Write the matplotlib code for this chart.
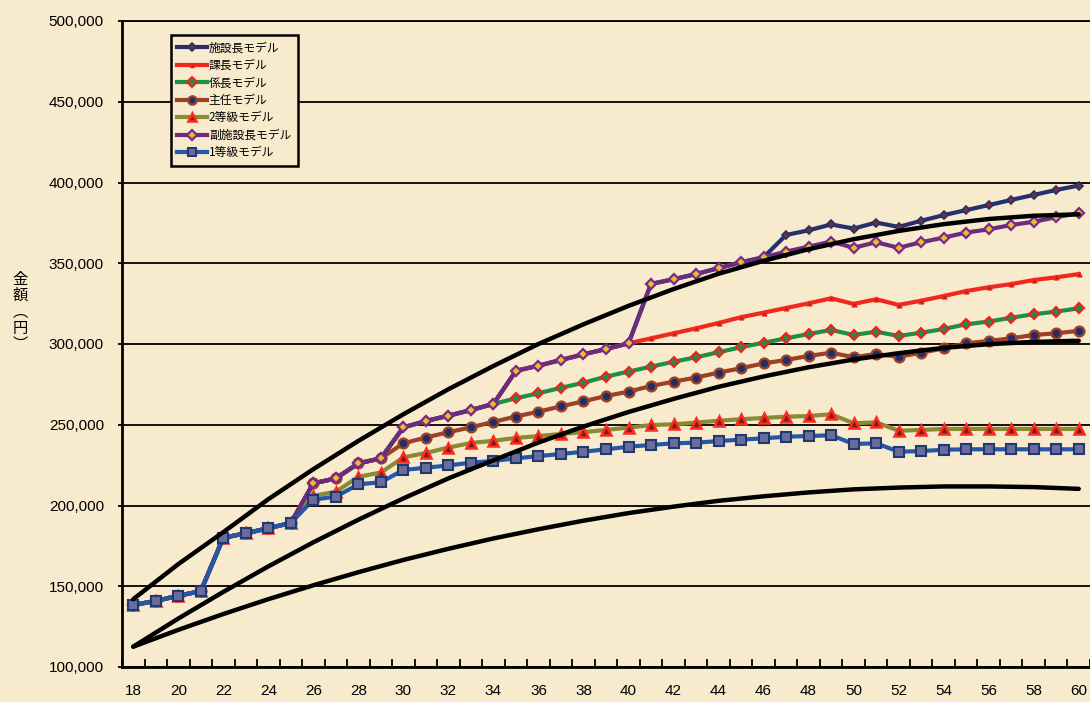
import matplotlib
matplotlib.use("Agg")
import matplotlib.pyplot as plt
from matplotlib.ticker import FuncFormatter, MultipleLocator, FixedLocator
import numpy as np

plt.rcParams['font.family'] = ['Liberation Sans', 'Noto Sans CJK JP', 'DejaVu Sans']

# Age (years) on the x axis
ages = list(range(18, 61))

# Monthly salary by model, in thousands of yen, ages 18..60
grade1 = [138.4, 140.9, 144.1, 147.0, 180.0, 182.8, 185.9, 189.2, 203.6, 205.5,
          213.1, 214.4, 222.0, 223.4, 224.8, 226.5, 227.6, 229.2, 230.6, 231.9,
          233.3, 234.8, 236.4, 237.5, 238.5, 238.9, 239.9, 240.8, 241.6, 242.6,
          243.0, 243.5, 238.1, 238.5, 233.3, 233.7, 234.5, 234.8, 234.8, 234.8,
          234.8, 234.8, 234.8]
grade2 = [138.4, 140.9, 144.1, 147.0, 180.0, 182.8, 185.9, 189.2, 206.0, 208.5,
          217.8, 220.4, 229.8, 232.5, 235.9, 238.7, 240.1, 241.8, 243.0, 244.3,
          245.4, 246.8, 248.2, 249.8, 250.3, 251.3, 252.5, 253.4, 254.2, 255.0,
          255.4, 256.5, 250.9, 251.5, 246.3, 246.8, 247.4, 247.4, 247.4, 247.4,
          247.4, 247.4, 247.4]
shunin = [138.4, 140.9, 144.1, 147.0, 180.0, 182.8, 185.9, 189.2, 213.7, 216.8,
          226.1, 229.2, 238.5, 242.1, 245.4, 248.4, 251.8, 255.1, 258.1, 261.4,
          264.5, 267.8, 270.5, 274.0, 276.7, 279.2, 282.3, 285.0, 288.0, 290.1,
          292.6, 294.6, 291.8, 293.8, 292.1, 294.6, 297.3, 300.4, 301.9, 303.5,
          305.6, 306.6, 308.2]
kakaricho = [138.4, 140.9, 144.1, 147.0, 180.0, 182.8, 185.9, 189.2, 213.7, 216.8,
             226.1, 229.2, 248.4, 252.3, 255.6, 259.1, 262.9, 266.4, 269.5, 272.9,
             276.0, 279.8, 282.9, 286.0, 289.0, 291.8, 294.9, 298.0, 300.8, 303.5,
             306.2, 308.7, 305.6, 307.6, 305.0, 307.0, 309.3, 312.2, 313.9, 316.3,
             318.4, 320.1, 322.1]
kacho = [138.4, 140.9, 144.1, 147.0, 180.0, 182.8, 185.9, 189.2, 213.7, 216.8,
         226.1, 229.2, 248.4, 252.3, 255.6, 259.1, 262.9, 283.4, 286.6, 290.1,
         293.6, 296.9, 300.4, 303.5, 306.6, 309.7, 313.0, 316.6, 319.4, 322.3,
         325.2, 328.3, 324.8, 327.7, 324.2, 326.8, 329.7, 332.8, 335.1, 337.1,
         339.6, 341.3, 343.3]
fuku_shisetsucho = [138.4, 140.9, 144.1, 147.0, 180.0, 182.8, 185.9, 189.2, 213.7, 216.8,
                    226.1, 229.2, 248.4, 252.3, 255.6, 259.1, 262.9, 283.4, 286.6, 290.1,
                    293.6, 296.9, 300.4, 337.2, 340.1, 343.3, 347.0, 350.6, 353.7, 357.2,
                    360.3, 363.4, 359.6, 363.0, 359.6, 363.0, 365.9, 369.0, 371.0, 373.7,
                    375.7, 378.5, 381.0]
shisetsucho = [138.4, 140.9, 144.1, 147.0, 180.0, 182.8, 185.9, 189.2, 213.7, 216.8,
               226.1, 229.2, 248.4, 252.3, 255.6, 259.1, 262.9, 283.4, 286.6, 290.1,
               293.6, 296.9, 300.4, 337.2, 340.1, 343.3, 347.0, 350.6, 353.7, 367.5,
               370.4, 374.0, 371.5, 375.2, 372.5, 376.3, 379.8, 382.9, 386.0, 389.2,
               392.3, 395.4, 398.1]

# Smooth reference curves (thousands of yen) sampled every two years
curve_ages = list(range(18, 61, 2))
curve_upper = [142.0, 163.7, 183.5, 203.9, 222.5, 240.0, 256.5, 272.0, 286.4, 300.0,
               312.2, 323.6, 334.0, 343.5, 351.5, 358.7, 364.9, 370.0, 374.2, 377.4,
               379.4, 380.3]
curve_middle = [112.6, 130.0, 146.5, 162.3, 177.2, 191.2, 204.4, 216.8, 228.0, 239.0,
                248.9, 257.9, 266.0, 273.5, 279.9, 285.6, 290.4, 294.3, 297.6, 299.9,
                301.3, 302.0]
curve_lower = [112.6, 123.0, 132.8, 142.0, 150.6, 158.7, 166.3, 173.2, 179.6, 185.3,
               190.6, 195.3, 199.3, 202.9, 205.7, 208.1, 210.0, 211.1, 211.8, 211.8,
               211.4, 210.3]

series_labels = ['施設長モデル', '課長モデル', '係長モデル', '主任モデル',
                 '2等級モデル', '副施設長モデル', '1等級モデル']

bg = '#F7EACD'
fig = plt.figure(figsize=(10.9, 7.02), dpi=100, facecolor=bg)
ax = fig.add_axes([122 / 1090, 1 - 667 / 702, 1 - 122 / 1090, (667 - 21) / 702])
ax.set_facecolor(bg)

styles = [
    dict(data=shisetsucho, color='#25306C', marker='D', ms=4.5, mfc='#7A2E2E', mec='#25306C', mew=1.2),
    dict(data=kacho, color='#F0281E', marker='^', ms=3.5, mfc='#A51818', mec='#F0281E', mew=1.0),
    dict(data=kakaricho, color='#1E8F45', marker='D', ms=5.5, mfc='#1E8F45', mec='#F02020', mew=1.5),
    dict(data=shunin, color='#9C4026', marker='o', ms=7, mfc='#1F2D6B', mec='#9C4026', mew=1.7),
    dict(data=grade2, color='#8A8A34', marker='^', ms=7.5, mfc='#7A1A1A', mec='#FF2A1E', mew=1.8),
    dict(data=fuku_shisetsucho, color='#6B2C7E', marker='D', ms=5.5, mfc='#E8C020', mec='#7A2A8C', mew=1.6),
    dict(data=grade1, color='#2557A8', marker='s', ms=7, mfc='#6C6C9C', mec='#1F3A70', mew=1.5),
]

values_scale = 1000
for lab, st in zip(series_labels, styles):
    y = np.array(st['data']) * values_scale
    ax.plot(ages, y, color=st['color'], lw=3.0, marker=st['marker'], ms=st['ms'],
            mfc=st['mfc'], mec=st['mec'], mew=st['mew'], label=lab, zorder=3)

for cv in (curve_upper, curve_middle, curve_lower):
    ax.plot(curve_ages, np.array(cv) * values_scale, color='black', lw=3.2,
            solid_capstyle='round', zorder=4)

ax.set_xlim(17.5, 60.5)
ax.set_ylim(100000, 500000)

ax.yaxis.set_major_locator(MultipleLocator(50000))
ax.yaxis.set_major_formatter(FuncFormatter(lambda v, p: f'{int(v):,}'))
ax.grid(axis='y', color='black', lw=1.3, zorder=1)
ax.set_axisbelow(True)

ax.xaxis.set_major_locator(FixedLocator(list(range(18, 61, 2))))
ax.xaxis.set_minor_locator(FixedLocator(list(np.arange(17.5, 61, 1.0))))
ax.tick_params(axis='x', which='major', length=0, pad=12, labelsize=11)
ax.tick_params(axis='x', which='minor', direction='in', length=6, width=1.3, color='black')
ax.tick_params(axis='y', which='major', direction='out', length=3, width=1.3,
               pad=10, labelsize=11)
for t in ax.get_xticklabels():
    t.set_family(['Liberation Sans Narrow', 'Liberation Sans'])

for side in ('left', 'bottom'):
    ax.spines[side].set_linewidth(2.0)
    ax.spines[side].set_color('black')
ax.spines['top'].set_linewidth(1.3)
ax.spines['right'].set_visible(False)

fig.text(20 / 1090, 1 - 312 / 702, '金\n額\n︵\n円\n︶', ha='center', va='center',
         fontsize=11, family=['Noto Sans CJK JP', 'DejaVu Sans'], linespacing=0.95)

leg = ax.legend(loc='upper left', bbox_to_anchor=(171 / 1090, 1 - 35 / 702),
                bbox_transform=fig.transFigure, frameon=True, fancybox=False,
                prop={'family': ['Noto Sans CJK JP', 'DejaVu Sans'], 'size': 8.5},
                handlelength=2.5, handletextpad=0.15, labelspacing=0.38,
                borderpad=0.55, borderaxespad=0, markerscale=0.85)
leg.get_frame().set_edgecolor('black')
leg.get_frame().set_linewidth(1.8)
leg.get_frame().set_facecolor(bg)
leg.get_frame().set_alpha(1.0)
leg.set_zorder(10)

fig.savefig('out.png', dpi=100, facecolor=bg)
